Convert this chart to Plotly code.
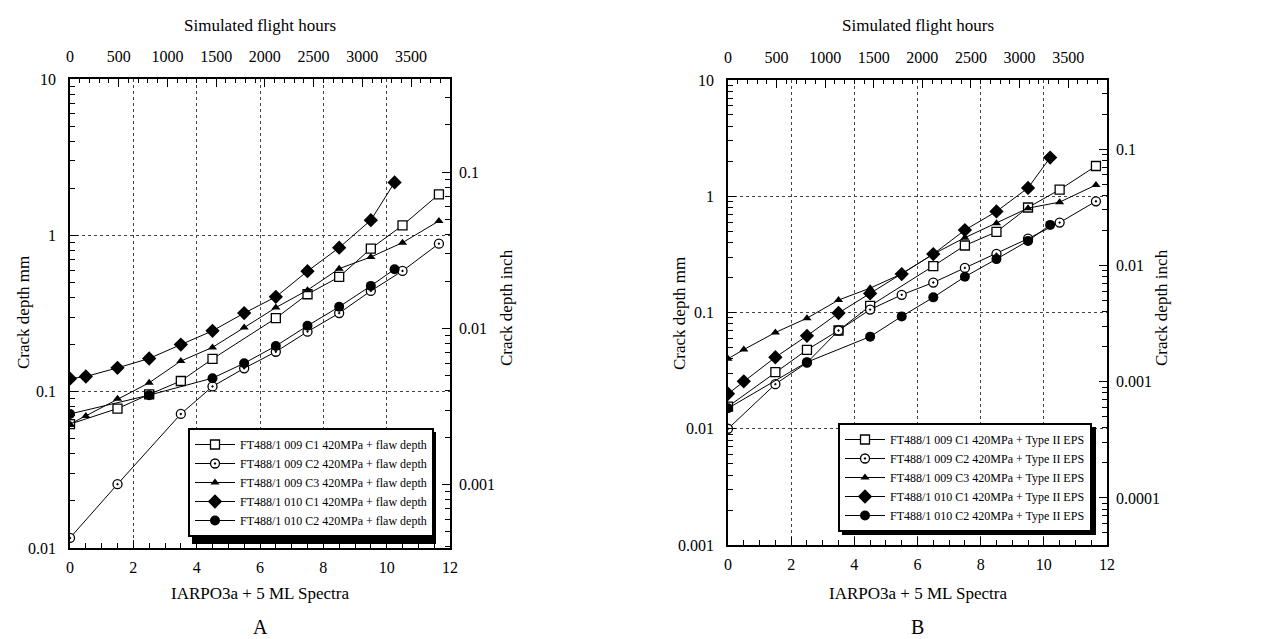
import plotly.graph_objects as go
import numpy as np

W, H = 1274, 639

# ---------------- data (panel A: + flaw depth) ----------------
a_c1_x = [0, 1.5, 2.5, 3.5, 4.5, 6.5, 7.5, 8.5, 9.5, 10.5, 11.65]
a_c1_y = [0.062, 0.078, 0.096, 0.117, 0.162, 0.295, 0.42, 0.542, 0.822, 1.158, 1.83]
a_c2_x = [0, 1.5, 3.5, 4.5, 5.5, 6.5, 7.5, 8.5, 9.5, 10.5, 11.65]
a_c2_y = [0.0116, 0.0256, 0.072, 0.108, 0.141, 0.180, 0.242, 0.318, 0.441, 0.592, 0.885]
a_c3_x = [0, 0.5, 1.5, 2.5, 3.5, 4.5, 5.5, 6.5, 7.5, 8.5, 9.5, 10.5, 11.65]
a_c3_y = [0.062, 0.070, 0.090, 0.114, 0.157, 0.192, 0.257, 0.345, 0.446, 0.612, 0.727, 0.898, 1.235]
a_d1_x = [0, 0.5, 1.5, 2.5, 3.5, 4.5, 5.5, 6.5, 7.5, 8.5, 9.5, 10.25]
a_d1_y = [0.121, 0.125, 0.142, 0.163, 0.200, 0.245, 0.318, 0.404, 0.59, 0.834, 1.25, 2.18]
a_d2_x = [0, 2.5, 4.5, 5.5, 6.5, 7.5, 8.5, 9.5, 10.25]
a_d2_y = [0.072, 0.095, 0.122, 0.152, 0.196, 0.264, 0.349, 0.475, 0.607]

# ---------------- data (panel B: + Type II EPS) ----------------
b_c1_x = [0, 1.5, 2.5, 3.5, 4.5, 6.5, 7.5, 8.5, 9.5, 10.5, 11.65]
b_c1_y = [0.0155, 0.0307, 0.0477, 0.070, 0.114, 0.251, 0.377, 0.494, 0.80, 1.14, 1.82]
b_c2_x = [0, 1.5, 2.5, 3.5, 4.5, 5.5, 6.5, 7.5, 8.5, 9.5, 10.5, 11.65]
b_c2_y = [0.010, 0.0242, 0.037, 0.070, 0.106, 0.142, 0.181, 0.242, 0.32, 0.432, 0.594, 0.905]
b_c3_x = [0, 0.5, 1.5, 2.5, 3.5, 4.5, 5.5, 6.5, 7.5, 8.5, 9.5, 10.5, 11.65]
b_c3_y = [0.040, 0.048, 0.0673, 0.0893, 0.128, 0.162, 0.215, 0.318, 0.44, 0.585, 0.79, 0.89, 1.25]
b_d1_x = [0, 0.5, 1.5, 2.5, 3.5, 4.5, 5.5, 6.5, 7.5, 8.5, 9.5, 10.2]
b_d1_y = [0.020, 0.0256, 0.0412, 0.063, 0.099, 0.146, 0.214, 0.318, 0.512, 0.74, 1.18, 2.15]
b_d2_x = [0, 2.5, 4.5, 5.5, 6.5, 7.5, 8.5, 9.5, 10.2]
b_d2_y = [0.015, 0.0374, 0.062, 0.0926, 0.135, 0.203, 0.288, 0.413, 0.567]

x_ticks = [0, 2, 4, 6, 8, 10, 12]
hour_ticks = [0, 500, 1000, 1500, 2000, 2500, 3000, 3500]
MM_PER_INCH = 25.4

names_a = ["FT488/1 009 C1 420MPa + flaw depth",
           "FT488/1 009 C2 420MPa + flaw depth",
           "FT488/1 009 C3 420MPa + flaw depth",
           "FT488/1 010 C1 420MPa + flaw depth",
           "FT488/1 010 C2 420MPa + flaw depth"]
names_b = ["FT488/1 009 C1 420MPa + Type II EPS",
           "FT488/1 009 C2 420MPa + Type II EPS",
           "FT488/1 009 C3 420MPa + Type II EPS",
           "FT488/1 010 C1 420MPa + Type II EPS",
           "FT488/1 010 C2 420MPa + Type II EPS"]

FONT = "Liberation Serif"

styles = [
    dict(symbol="square", size=9, color="white", line=dict(color="black", width=1.3)),
    dict(symbol="circle-dot", size=9, color="white", line=dict(color="black", width=1.3)),
    dict(symbol="triangle-up", size=8, color="black", line=dict(color="black", width=0)),
    dict(symbol="diamond", size=11, color="black", line=dict(color="black", width=0)),
    dict(symbol="circle", size=10, color="black", line=dict(color="black", width=0)),
]

fig = go.Figure()

sets_a = [(a_c1_x, a_c1_y), (a_c2_x, a_c2_y), (a_c3_x, a_c3_y), (a_d1_x, a_d1_y), (a_d2_x, a_d2_y)]
sets_b = [(b_c1_x, b_c1_y), (b_c2_x, b_c2_y), (b_c3_x, b_c3_y), (b_d1_x, b_d1_y), (b_d2_x, b_d2_y)]

for (xs, ys), nm, st in zip(sets_a, names_a, styles):
    fig.add_trace(go.Scatter(x=xs, y=ys, mode="lines+markers", name=nm,
                             line=dict(color="black", width=1), marker=st,
                             xaxis="x", yaxis="y", legend="legend"))
for (xs, ys), nm, st in zip(sets_b, names_b, styles):
    fig.add_trace(go.Scatter(x=xs, y=ys, mode="lines+markers", name=nm,
                             line=dict(color="black", width=1), marker=st,
                             xaxis="x3", yaxis="y3", legend="legend2"))

# dummy traces so the overlay axes are drawn
for xa, ya in [("x2", "y2"), ("x4", "y4")]:
    fig.add_trace(go.Scatter(x=[None], y=[None], xaxis=xa, yaxis=ya, showlegend=False, hoverinfo="skip"))

def px(x):
    return x / W

def py(y):
    return 1 - y / H

# plot-area pixel geometry
A_L, A_R, A_T, A_B = 62, 442, 71, 540
B_L, B_R, B_T, B_B = 720, 1099, 72, 537

tickfont = dict(family=FONT, size=16, color="black")

def minor_log(lo, hi):
    vals = []
    for e in range(lo, hi):
        for m in range(2, 10):
            vals.append(m * 10.0 ** e)
    return vals

def bottom_axis(dom):
    return dict(domain=dom, range=[0, 12], tickvals=x_ticks, ticks="inside", ticklen=8,
                tickcolor="black", showline=True, linecolor="black", linewidth=1.5,
                showgrid=True, gridcolor="#444", griddash="dot", gridwidth=1, zeroline=False,
                tickfont=tickfont, ticklabelstandoff=4,
                minor=dict(dtick=0.5, ticks="inside", ticklen=5, tickcolor="black", showgrid=False))

def top_axis(over):
    return dict(overlaying=over, side="top", range=[0, 3900], tickvals=hour_ticks,
                ticks="inside", ticklen=8, tickcolor="black", showline=True, linecolor="black",
                linewidth=1.5, showgrid=False, zeroline=False, tickfont=tickfont,
                ticklabelstandoff=9,
                minor=dict(dtick=100, ticks="inside", ticklen=4, tickcolor="black", showgrid=False))

def left_axis(dom, lo, hi, anchor):
    vals = [10.0 ** e for e in range(lo, hi + 1)]
    txt = [("%g" % v) for v in vals]
    return dict(domain=dom, type="log", range=[lo, hi], tickvals=vals, ticktext=txt, anchor=anchor,
                ticks="inside", ticklen=8, tickcolor="black", showline=True, linecolor="black",
                linewidth=1.5, showgrid=True, gridcolor="#444", griddash="dot", gridwidth=1,
                zeroline=False, tickfont=tickfont, ticklabelstandoff=9,
                minor=dict(tickvals=minor_log(lo, hi), ticks="inside", ticklen=5, tickcolor="black", showgrid=False))

def right_axis(over, lo, hi, anchor, tv):
    lo_i, hi_i = lo - np.log10(MM_PER_INCH), hi - np.log10(MM_PER_INCH)
    return dict(overlaying=over, side="right", type="log", range=[lo_i, hi_i], anchor=anchor,
                tickvals=tv, ticktext=[("%g" % v) for v in tv], ticks="inside", ticklen=8,
                tickcolor="black", showline=True, linecolor="black", linewidth=1.5,
                showgrid=False, zeroline=False, tickfont=tickfont, ticklabelstandoff=4,
                minor=dict(tickvals=minor_log(int(np.floor(lo_i)), int(np.ceil(hi_i))), ticks="inside",
                           ticklen=5, tickcolor="black", showgrid=False))

domA_x = [px(A_L), px(A_R)]
domA_y = [py(A_B), py(A_T)]
domB_x = [px(B_L), px(B_R)]
domB_y = [py(B_B), py(B_T)]

leg_common = dict(bgcolor="white", bordercolor="black", borderwidth=2,
                  font=dict(family=FONT, size=12, color="black"), xanchor="left", yanchor="top",
                  tracegroupgap=0, itemwidth=40)

# legend boxes (pixel positions and approximate size) for the drop shadow
LEG_A = (180, 420, 244, 112)
LEG_B = (830, 415, 254, 108)

fig.update_layout(
    width=W, height=H, margin=dict(l=0, r=0, t=0, b=0, autoexpand=False),
    paper_bgcolor="white", plot_bgcolor="white",
    font=dict(family=FONT, color="black"),
    xaxis=dict(bottom_axis(domA_x), anchor="y"),
    xaxis2=dict(top_axis("x"), anchor="y"),
    yaxis=left_axis(domA_y, -2, 1, "x"),
    yaxis2=right_axis("y", -2, 1, "x", [0.001, 0.01, 0.1]),
    xaxis3=dict(bottom_axis(domB_x), anchor="y3"),
    xaxis4=dict(top_axis("x3"), anchor="y3"),
    yaxis3=left_axis(domB_y, -3, 1, "x3"),
    yaxis4=right_axis("y3", -3, 1, "x3", [0.0001, 0.001, 0.01, 0.1]),
    legend=dict(leg_common, x=px(LEG_A[0]), y=py(LEG_A[1])),
    legend2=dict(leg_common, x=px(LEG_B[0]), y=py(LEG_B[1])),
    showlegend=True,
)

shapes = []
for (lx, ly, lw, lh) in [LEG_A, LEG_B]:
    shapes.append(dict(type="rect", xref="paper", yref="paper",
                       x0=px(lx + 4), x1=px(lx + lw + 4), y0=py(ly + lh + 4), y1=py(ly + 4),
                       fillcolor="black", line=dict(width=0), layer="above"))
fig.update_layout(shapes=shapes)

ann_font = dict(family=FONT, size=17, color="black")
annotations = [
    dict(text="Simulated flight hours", x=px((A_L + A_R) / 2), y=py(17)),
    dict(text="Simulated flight hours", x=px((B_L + B_R) / 2), y=py(17)),
    dict(text="IARPO3a + 5 ML Spectra", x=px((A_L + A_R) / 2), y=py(585)),
    dict(text="IARPO3a + 5 ML Spectra", x=px((B_L + B_R) / 2), y=py(585)),
    dict(text="A", x=px((A_L + A_R) / 2), y=py(619), font=dict(family=FONT, size=20, color="black")),
    dict(text="B", x=px((B_L + B_R) / 2), y=py(619), font=dict(family=FONT, size=20, color="black")),
    dict(text="Crack depth mm", x=px(15), y=py(305), textangle=-90),
    dict(text="Crack depth inch", x=px(498), y=py(300), textangle=-90),
    dict(text="Crack depth mm", x=px(671), y=py(305), textangle=-90),
    dict(text="Crack depth inch", x=px(1153), y=py(300), textangle=-90),
]
for a in annotations:
    a.setdefault("font", ann_font)
    a.update(xref="paper", yref="paper", showarrow=False, xanchor="center", yanchor="middle")
fig.update_layout(annotations=annotations)

fig.write_html("out.html")
